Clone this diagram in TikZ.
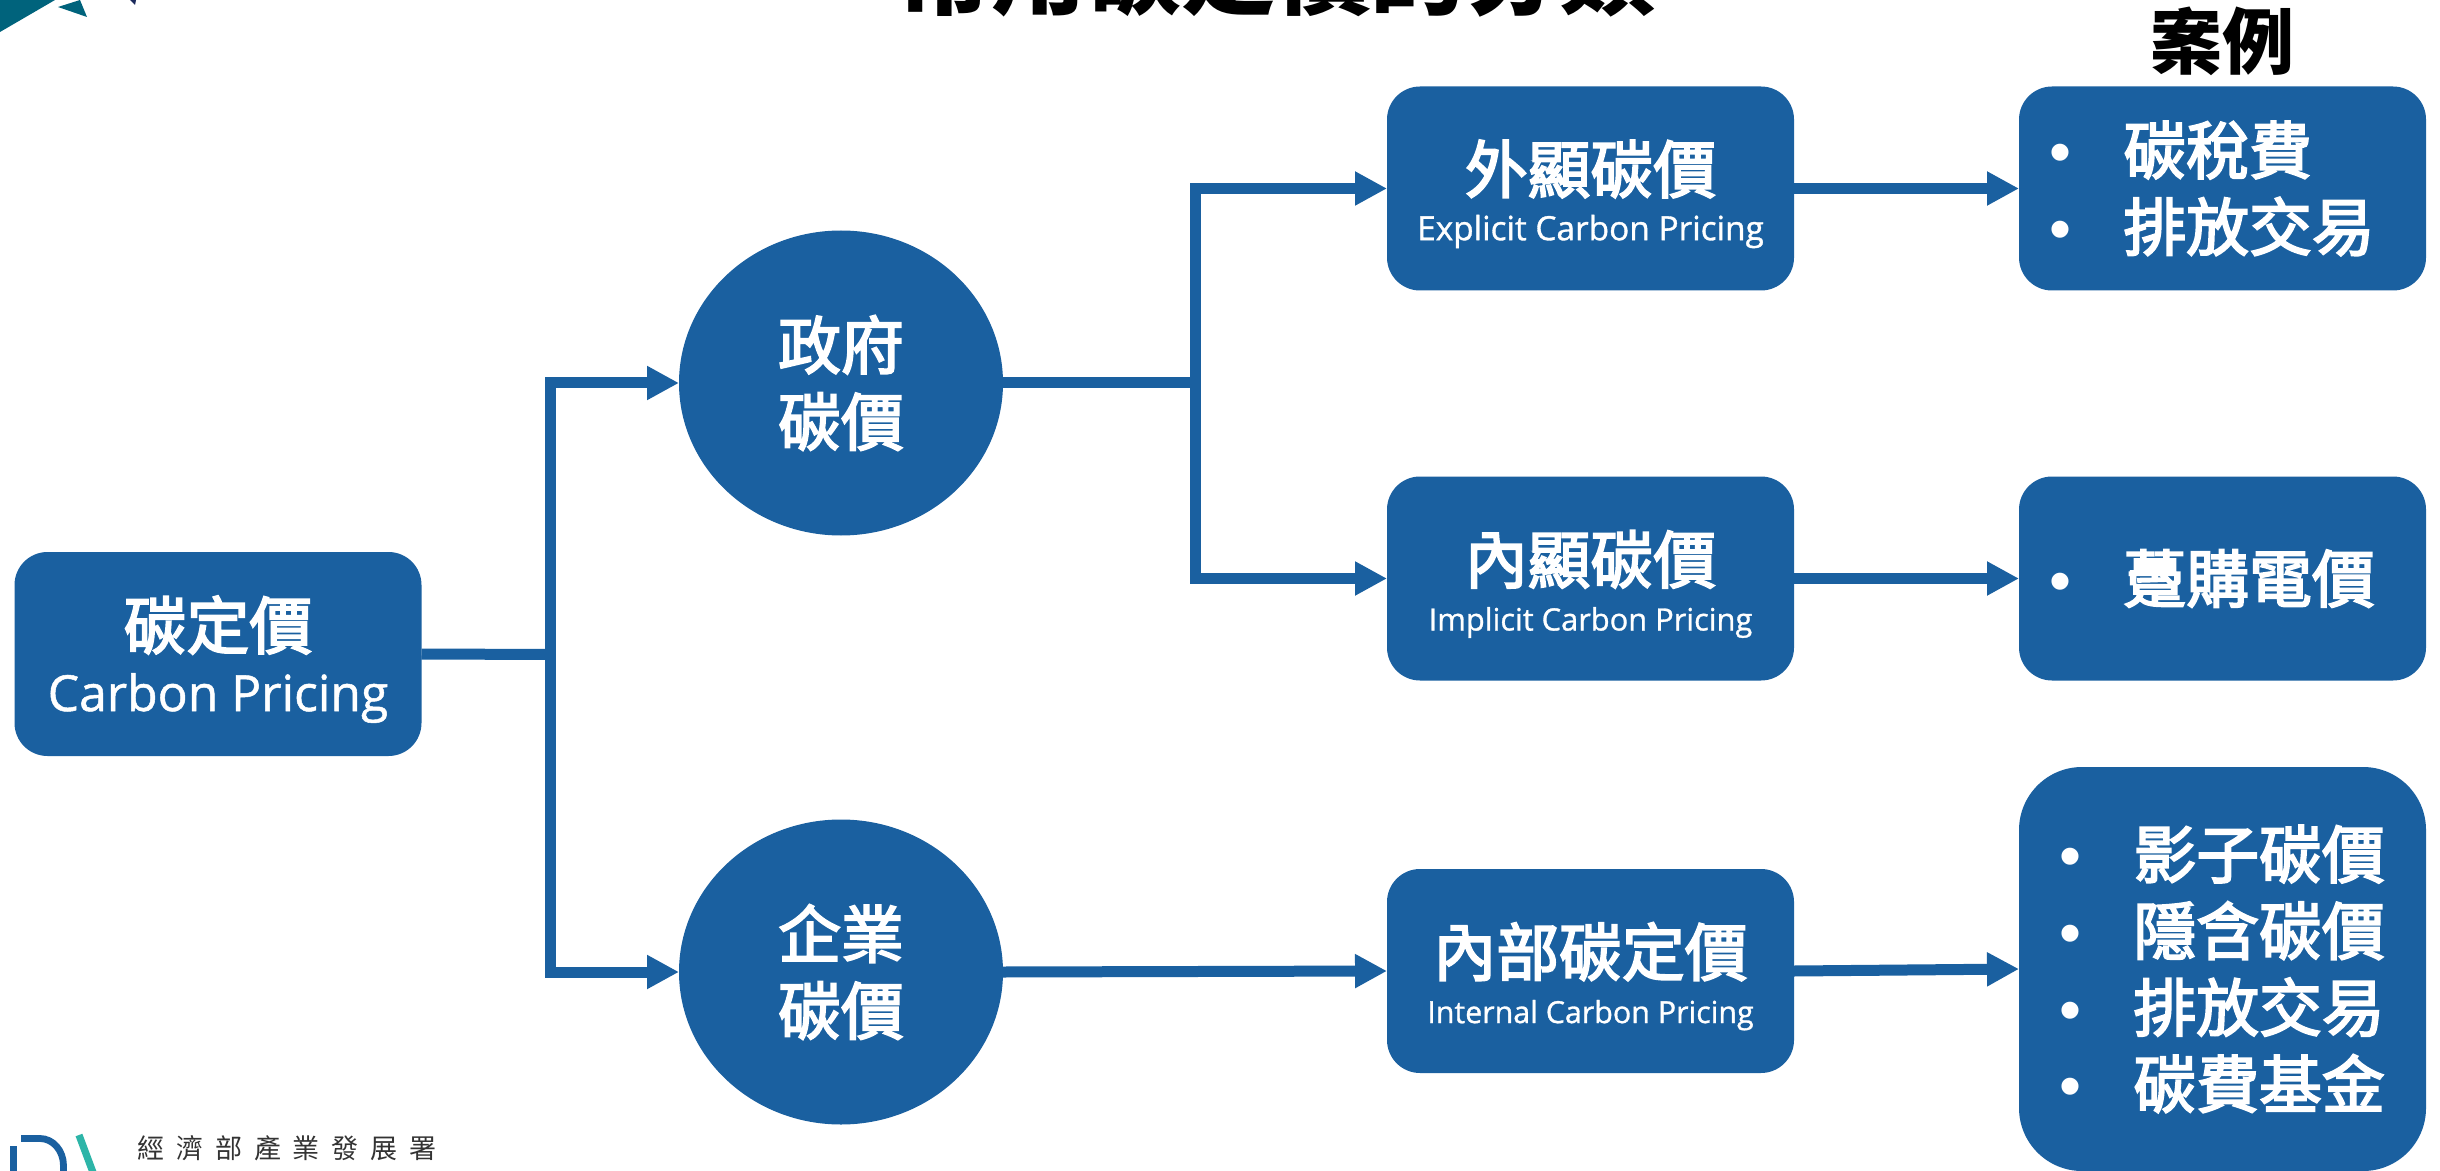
\documentclass[tikz,border=0pt]{standalone}
\usepackage{fontspec}
\usetikzlibrary{shapes.geometric,arrows.meta}
\setmainfont[FakeBold=1]{Open Sans}
\newfontfamily\cjk{Noto Sans CJK TC}
\newfontfamily\cjkm[FakeBold=3]{Noto Sans CJK TC}
\newfontfamily\cjkspaced[LetterSpace=44]{Noto Sans CJK TC}
\newfontfamily\bulfont{Liberation Sans}
\definecolor{mainblue}{HTML}{1A60A0}
\definecolor{logoteal}{HTML}{00637C}
\definecolor{logonavy}{HTML}{1B2A5C}
\definecolor{logolight}{HTML}{2DB5A8}
\newcommand{\cjkbig}{\fontsize{31.4}{38.3}\selectfont\cjkm}
\newcommand{\bul}{\makebox[37pt][l]{\bulfont •}}
\newcommand{\twol}[3]{\rule{0pt}{32pt}{\cjkbig #1}\\{\fontsize{#2}{#2}\selectfont #3}}
\tikzset{
  x=0.5pt,y=-0.5pt,
  shapebase/.style={fill=mainblue,draw=none,text=white,inner sep=0pt,outer sep=0pt},
  boxnode/.style={shapebase,rectangle,rounded corners=16.5pt,minimum width=203.5pt,minimum height=102pt,align=center,font=\fontsize{17}{23.7}\selectfont},
  listnode/.style={shapebase,rectangle,rounded corners=16.5pt,minimum width=203.5pt,minimum height=102pt,text width=173pt,align=left,font=\cjkbig},
  circlenode/.style={shapebase,ellipse,minimum width=162pt,minimum height=152.5pt,align=center,font=\cjkbig},
  plain/.style={draw=mainblue,line width=5.5pt},
  arrowline/.style={plain,-{Triangle[length=16pt,width=16pt,fill=mainblue]}},
  titletext/.style={text=black,inner sep=0pt},
}
\begin{document}
\begin{tikzpicture}
\path[use as bounding box] (0,0) rectangle (2440,1171);
\clip (0,0) rectangle (2440,1171);
\fill[white] (0,0) rectangle (2440,1171);
% logo top
\fill[logoteal] (0,0) -- (55,0) -- (0,32) -- cycle;
\fill[logoteal] (58,7) -- (80,0) -- (87,17) -- cycle;
\fill[logonavy] (130,0) -- (136,0) -- (135,5) -- cycle;
% logo bottom
\draw[mainblue,line width=3.4pt] (13.5,1146) -- (13.5,1175);
\draw[mainblue,line width=3.4pt] (21,1138.5) -- (40,1138.5) arc[start angle=90,end angle=0,x radius=23.5,y radius=-27] -- (63.5,1175);
\draw[logolight,line width=3.6pt] (79,1135) -- (94,1175);
\node[inner sep=0pt,anchor=west,text=black!80] (agency) at (137,1148) {\fontsize{13.5}{14}\selectfont\cjkspaced 經濟部產業發展署};
% titles
\node[titletext,font=\fontsize{47.4}{50}\selectfont\cjk\bfseries] (title) at (1276,-29) {常用碳定價的分類};
\node[titletext,font=\fontsize{36}{38}\selectfont\cjk\bfseries] (cases) at (2222,41) {案例};
% nodes
\node[boxnode,font=\fontsize{24.9}{31}\selectfont] (root) at (218,654) {\twol{碳定價}{24.9}{Carbon Pricing}};
\node[circlenode] (gov) at (841,383) {政府\\碳價};
\node[circlenode] (biz) at (841,972) {企業\\碳價};
\node[boxnode] (ex) at (1590.5,188.5) {\twol{外顯碳價}{16.7}{Explicit Carbon Pricing}};
\node[boxnode] (im) at (1590.5,578.5) {\twol{內顯碳價}{15.4}{Implicit Carbon Pricing}};
\node[boxnode] (in) at (1590.5,971) {\twol{內部碳定價}{15.2}{Internal Carbon Pricing}};
\node[listnode] (exl) at (2222.5,188.5) {\bul 碳稅費\\\bul 排放交易};
\node[listnode] (iml) at (2222.5,578.5) {\bul 躉購電價};
\node[listnode,minimum height=202pt,rounded corners=31.5pt,text width=163pt] (inl) at (2222.5,969) {\bul 影子碳價\\\bul 隱含碳價\\\bul 排放交易\\\bul 碳費基金};
% junctions
\coordinate (j1) at (550,654.5);
\coordinate (j2) at (1195,383);
% connectors
\draw[plain] (root.east) -- (j1);
\draw[arrowline] (j1) |- (gov.west);
\draw[arrowline] (j1) |- (biz.west);
\draw[plain] (gov.east) -- (j2);
\draw[arrowline] (j2) |- (ex.west);
\draw[arrowline] (j2) |- (im.west);
\draw[arrowline] (biz.east) -- (in.west);
\draw[arrowline] (ex.east) -- (exl.west);
\draw[arrowline] (im.east) -- (iml.west);
\draw[arrowline] (in.east) -- (inl.west);
\end{tikzpicture}
\end{document}
